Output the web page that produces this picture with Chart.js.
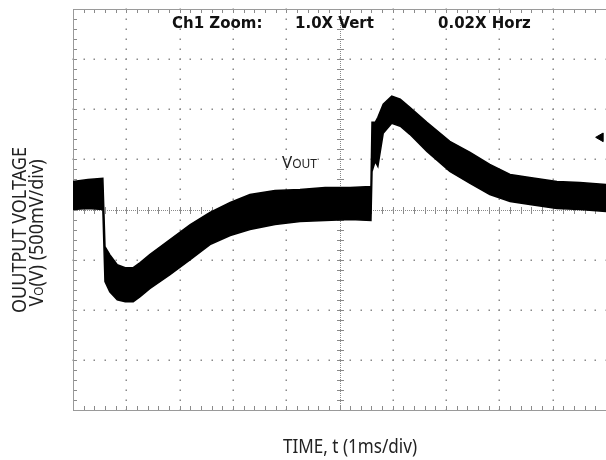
<!DOCTYPE html>
<html>
<head>
<meta charset="utf-8">
<script src="https://cdn.jsdelivr.net/npm/chart.js@4.4.1/dist/chart.umd.min.js"></script>
<style>
  html, body { margin: 0; padding: 0; background: #fff; overflow: hidden; }
</style>
</head>
<body>
<canvas id="scope" width="606" height="460"></canvas>
<script>
// -------------------- Data (read off the scope capture) --------------------
// time in ms (1 ms/div), voltage in V relative to centre line (500 mV/div)
const timeMs = [0, 0.28, 0.56, 0.6, 0.69, 0.83, 0.98, 1.13, 1.26, 1.44, 1.82, 2.2, 2.57, 2.95, 3.32, 3.79, 4.26, 4.73, 5.2, 5.59,
  5.61, 5.67, 5.72, 5.82, 5.98, 6.14, 6.32, 6.64, 7.07, 7.45, 7.82, 8.2, 8.57, 9.08, 9.51, 10];
// upper and lower edge of the noisy trace
const vUpper = [0.28, 0.30, 0.31, -0.37, -0.45, -0.55, -0.58, -0.58, -0.53, -0.45, -0.30, -0.15, -0.03, 0.07, 0.15, 0.19, 0.20, 0.22, 0.22, 0.23,
  0.87, 0.87, 0.92, 1.05, 1.13, 1.10, 1.02, 0.87, 0.68, 0.57, 0.45, 0.35, 0.32, 0.28, 0.27, 0.25];
const vLower = [0.0, 0.01, 0.0, -0.72, -0.82, -0.90, -0.92, -0.92, -0.87, -0.79, -0.65, -0.50, -0.35, -0.26, -0.20, -0.15, -0.12, -0.11, -0.10, -0.11,
  0.38, 0.48, 0.43, 0.76, 0.86, 0.83, 0.75, 0.58, 0.38, 0.26, 0.15, 0.08, 0.05, 0.01, 0.0, -0.02];
// trigger level marker on the right edge
const trigTime = [9.9];
const trigLevel = [0.72];

const headerTexts = ['Ch1 Zoom:', '1.0X Vert', '0.02X Horz'];
const xTitle = 'TIME, t (1ms/div)';
const yTitle1 = 'OUUTPUT VOLTAGE';

// -------------------- Graticule --------------------
const graticule = {
  id: 'graticule',
  beforeDatasetsDraw(chart) {
    const { ctx, chartArea: a, scales: { x, y } } = chart;
    ctx.save();
    ctx.fillStyle = '#8a8a8a';
    // dotted division lines
    for (let i = 1; i < 10; i++) {
      if (i === 5) continue;
      const px = Math.round(x.getPixelForValue(i));
      for (let k = 0; k <= 40; k++) {
        const py = Math.round(y.getPixelForValue(-2 + k * 0.1));
        ctx.fillRect(px - 0.5, py - 0.5, 1.5, 1.5);
      }
    }
    for (let j = -3; j <= 3; j++) {
      if (j === 0) continue;
      const py = Math.round(y.getPixelForValue(j * 0.5));
      for (let k = 0; k <= 50; k++) {
        const px = Math.round(x.getPixelForValue(k * 0.2));
        ctx.fillRect(px - 0.5, py - 0.5, 1.5, 1.5);
      }
    }
    // centre cross with minor ticks
    const cx = Math.round(x.getPixelForValue(5));
    const cy = Math.round(y.getPixelForValue(0));
    for (let p = a.top; p <= a.bottom; p += 2) ctx.fillRect(cx, p, 1, 1);
    for (let p = a.left; p <= a.right; p += 2) ctx.fillRect(p, cy, 1, 1);
    for (let k = 0; k <= 40; k++) {
      const py = Math.round(y.getPixelForValue(-2 + k * 0.1));
      ctx.fillRect(cx - 3, py, 7, 1);
      ctx.fillRect(a.left, py, 4, 1);
    }
    for (let k = 0; k <= 50; k++) {
      const px = Math.round(x.getPixelForValue(k * 0.2));
      ctx.fillRect(px, cy - 3, 1, 7);
      ctx.fillRect(px, a.top, 1, 4);
      ctx.fillRect(px, a.bottom - 4, 1, 4);
    }
    // frame
    ctx.strokeStyle = '#9a9a9a';
    ctx.lineWidth = 1;
    ctx.beginPath();
    ctx.moveTo(a.right, a.top + 0.5);
    ctx.lineTo(a.left + 0.5, a.top + 0.5);
    ctx.lineTo(a.left + 0.5, a.bottom + 0.5);
    ctx.lineTo(a.right, a.bottom + 0.5);
    ctx.stroke();
    ctx.restore();
  }
};

// -------------------- Labels --------------------
function drawRun(ctx, parts, x0, y0) {
  let cur = x0;
  parts.forEach(p => {
    ctx.font = p[1];
    ctx.fillText(p[0], cur, y0);
    cur += ctx.measureText(p[0]).width;
  });
}

const labels = {
  id: 'labels',
  afterDatasetsDraw(chart) {
    const { ctx } = chart;
    ctx.save();
    ctx.fillStyle = '#111';
    ctx.textBaseline = 'alphabetic';
    ctx.font = 'bold 15px "DejaVu Sans"';
    ctx.fillText(headerTexts[0], 172, 28);
    ctx.fillText(headerTexts[1], 295, 28);
    ctx.fillText(headerTexts[2], 438, 28);

    // V_OUT tag
    ctx.fillStyle = '#222';
    drawRun(ctx, [['V', '17px "Noto Sans"'], ['OUT', '12px "Noto Sans"']], 282, 168);

    // x axis title
    ctx.save();
    ctx.translate(350, 453);
    ctx.scale(0.9, 1);
    ctx.textAlign = 'center';
    ctx.font = '19px "Noto Sans"';
    ctx.fillText(xTitle, 0, 0);
    ctx.restore();

    // y axis title, two rotated lines
    ctx.save();
    ctx.translate(26, 230);
    ctx.rotate(-Math.PI / 2);
    ctx.scale(0.9, 1);
    ctx.textAlign = 'center';
    ctx.font = '20px "Noto Sans"';
    ctx.fillText(yTitle1, 0, 0);
    ctx.restore();

    ctx.save();
    ctx.translate(43, 233);
    ctx.rotate(-Math.PI / 2);
    ctx.scale(0.9, 1);
    const parts = [['V', '20px "Noto Sans"'], ['O', '13px "Noto Sans"'], ['(V) (500mV/div)', '20px "Noto Sans"']];
    let w = 0;
    parts.forEach(p => { ctx.font = p[1]; w += ctx.measureText(p[0]).width; });
    drawRun(ctx, parts, -w / 2, 0);
    ctx.restore();
    ctx.restore();
  }
};

// -------------------- Chart --------------------
const toPts = (xs, ys) => xs.map((t, i) => ({ x: t, y: ys[i] }));

new Chart(document.getElementById('scope'), {
  type: 'line',
  data: {
    datasets: [
      {
        label: 'upper',
        data: toPts(timeMs, vUpper),
        borderColor: '#000',
        borderWidth: 1.5,
        pointRadius: 0,
        tension: 0,
        fill: false
      },
      {
        label: 'lower',
        data: toPts(timeMs, vLower),
        borderColor: '#000',
        borderWidth: 1.5,
        backgroundColor: '#000',
        pointRadius: 0,
        tension: 0,
        fill: '-1'
      },
      {
        label: 'trigger',
        type: 'scatter',
        data: toPts(trigTime, trigLevel),
        pointStyle: 'triangle',
        rotation: -90,
        pointRadius: 5,
        backgroundColor: '#000',
        borderColor: '#000'
      }
    ]
  },
  options: {
    responsive: false,
    animation: false,
    layout: { autoPadding: false, padding: { left: 73, top: 9, right: 0, bottom: 50 } },
    plugins: { legend: { display: false }, tooltip: { enabled: false } },
    scales: {
      x: { type: 'linear', min: 0, max: 10, display: false },
      y: { type: 'linear', min: -2, max: 2, display: false }
    }
  },
  plugins: [graticule, labels]
});
</script>
</body>
</html>
